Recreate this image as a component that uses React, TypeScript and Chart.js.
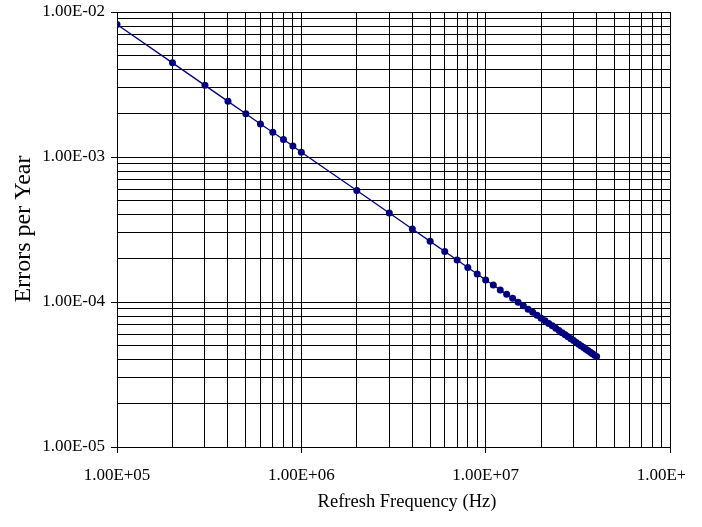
import { useEffect, useRef } from 'react';
import { Chart, registerables } from 'chart.js';

Chart.register(...registerables);

// Refresh frequency (Hz)
const frequencies = [
  1e5, 2e5, 3e5, 4e5, 5e5, 6e5, 7e5, 8e5, 9e5,
  1e6, 2e6, 3e6, 4e6, 5e6, 6e6, 7e6, 8e6, 9e6,
  1.0e7, 1.1e7, 1.2e7, 1.3e7, 1.4e7, 1.5e7, 1.6e7, 1.7e7, 1.8e7, 1.9e7,
  2.0e7, 2.1e7, 2.2e7, 2.3e7, 2.4e7, 2.5e7, 2.6e7, 2.7e7, 2.8e7, 2.9e7,
  3.0e7, 3.1e7, 3.2e7, 3.3e7, 3.4e7, 3.5e7, 3.6e7, 3.7e7, 3.8e7, 3.9e7,
  4.0e7,
];

// Errors per year
const errorsPerYear = [
  8.20e-3, 4.46e-3, 3.12e-3, 2.42e-3, 1.99e-3, 1.69e-3, 1.48e-3, 1.32e-3, 1.19e-3,
  1.08e-3, 5.87e-4, 4.11e-4, 3.19e-4, 2.62e-4, 2.23e-4, 1.95e-4, 1.73e-4, 1.56e-4,
  1.42e-4, 1.31e-4, 1.21e-4, 1.13e-4, 1.06e-4, 9.97e-5, 9.42e-5, 8.93e-5, 8.49e-5, 8.10e-5,
  7.74e-5, 7.42e-5, 7.12e-5, 6.85e-5, 6.60e-5, 6.36e-5, 6.14e-5, 5.94e-5, 5.76e-5, 5.58e-5,
  5.42e-5, 5.26e-5, 5.12e-5, 4.98e-5, 4.85e-5, 4.73e-5, 4.62e-5, 4.51e-5, 4.40e-5, 4.30e-5,
  4.21e-5,
];

const xDecades = [1e5, 1e6, 1e7, 1e8];
const xTickLabels = ['1.00E+05', '1.00E+06', '1.00E+07', '1.00E+08'];
const yDecades = [1e-5, 1e-4, 1e-3, 1e-2];
const yTickLabels = ['1.00E-05', '1.00E-04', '1.00E-03', '1.00E-02'];
const minorSteps = [1, 2, 3, 4, 5, 6, 7, 8, 9];

const xTitle = 'Refresh Frequency (Hz)';
const yTitle = 'Errors per Year';

const FONT = '"Liberation Serif", "Times New Roman", serif';

function gridValues(decades: number[]) {
  const out: number[] = [];
  decades.forEach((d, i) => {
    if (i === decades.length - 1) {
      out.push(d);
    } else {
      minorSteps.forEach((k) => out.push(d * k));
    }
  });
  return out;
}

function decadeIndex(decades: number[], v: number) {
  return decades.findIndex((d) => Math.abs(d - v) / d < 1e-6);
}

const titlesPlugin = {
  id: 'axisTitles',
  afterDraw(chart: any) {
    const ctx = chart.ctx;
    ctx.save();
    ctx.fillStyle = '#000';
    ctx.textAlign = 'center';
    ctx.textBaseline = 'middle';
    ctx.font = `18.5px ${FONT}`;
    ctx.fillText(xTitle, 407, 502);
    ctx.translate(24, 229);
    ctx.rotate(-Math.PI / 2);
    ctx.font = `24px ${FONT}`;
    ctx.fillText(yTitle, 0, 0);
    ctx.restore();
  },
};

export default function App() {
  const ref = useRef<HTMLCanvasElement | null>(null);

  useEffect(() => {
    if (!ref.current) return;
    const xGrid = gridValues(xDecades);
    const yGrid = gridValues(yDecades);
    const chart = new Chart(ref.current, {
      type: 'line',
      data: {
        datasets: [
          {
            data: frequencies.map((f, i) => ({ x: f, y: errorsPerYear[i] })),
            borderColor: '#000080',
            backgroundColor: '#000080',
            borderWidth: 1.3,
            pointRadius: 3.5,
            pointBorderWidth: 0,
            pointBackgroundColor: '#000080',
            tension: 0,
          },
        ],
      },
      options: {
        responsive: false,
        animation: false,
        events: [],
        layout: { padding: { top: 12, right: 32, left: 0, bottom: 0 } },
        plugins: {
          legend: { display: false },
          tooltip: { enabled: false },
          title: { display: false },
        },
        scales: {
          x: {
            type: 'logarithmic',
            position: 'bottom',
            min: 1e5,
            max: 1e8,
            afterBuildTicks: (s: any) => {
              s.ticks = xGrid.map((v) => ({ value: v }));
            },
            afterFit: (s: any) => {
              s.height = 80;
              s.paddingLeft = 0;
              s.paddingRight = 0;
            },
            ticks: {
              autoSkip: false,
              maxRotation: 0,
              minRotation: 0,
              padding: 12,
              color: '#000',
              font: { family: FONT, size: 17 },
              callback: (v: any) => {
                const i = decadeIndex(xDecades, Number(v));
                return i >= 0 ? xTickLabels[i] : '';
              },
            },
            grid: {
              color: '#000',
              lineWidth: 1,
              tickLength: 6,
              tickColor: (c: any) =>
                c.tick && decadeIndex(xDecades, c.tick.value) >= 0 ? '#000' : 'rgba(0,0,0,0)',
            },
            border: { display: true, color: '#000', width: 1 },
          },
          y: {
            type: 'logarithmic',
            position: 'left',
            min: 1e-5,
            max: 1e-2,
            afterBuildTicks: (s: any) => {
              s.ticks = yGrid.map((v) => ({ value: v }));
            },
            afterFit: (s: any) => {
              s.width = 117;
              s.paddingTop = 0;
              s.paddingBottom = 0;
            },
            ticks: {
              autoSkip: false,
              padding: 6,
              color: '#000',
              font: { family: FONT, size: 17 },
              callback: (v: any) => {
                const i = decadeIndex(yDecades, Number(v));
                return i >= 0 ? yTickLabels[i] : '';
              },
            },
            grid: {
              color: '#000',
              lineWidth: 1,
              tickLength: 6,
              tickColor: (c: any) =>
                c.tick && decadeIndex(yDecades, c.tick.value) >= 0 ? '#000' : 'rgba(0,0,0,0)',
            },
            border: { display: true, color: '#000', width: 1 },
          },
        },
      },
      plugins: [titlesPlugin],
    } as any);
    return () => chart.destroy();
  }, []);

  return (
    <div
      style={{
        position: 'absolute',
        left: 0,
        top: 0,
        width: 685,
        height: 527,
        overflow: 'hidden',
        background: '#fff',
      }}
    >
      <canvas ref={ref} width={702} height={527} style={{ display: 'block' }} />
    </div>
  );
}
